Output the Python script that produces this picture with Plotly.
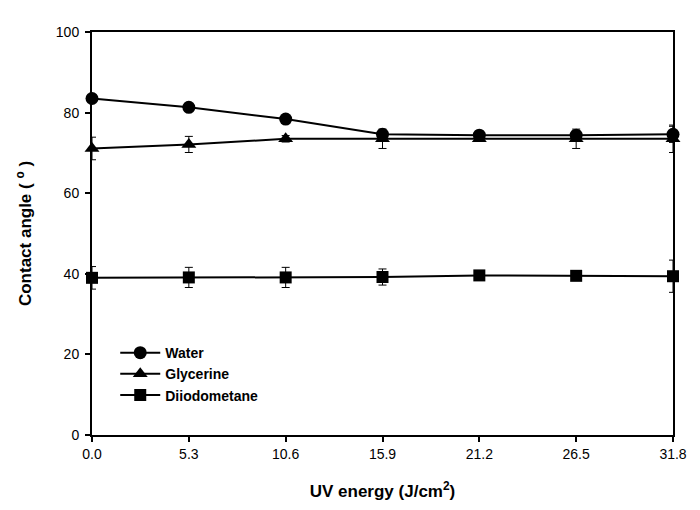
import plotly.graph_objects as go

uv_energy = [0.0, 5.3, 10.6, 15.9, 21.2, 26.5, 31.8]
tick_labels = ["0.0", "5.3", "10.6", "15.9", "21.2", "26.5", "31.8"]

water = [83.5, 81.3, 78.4, 74.6, 74.4, 74.4, 74.6]
water_err = [1.0, 0.8, 0.8, 0.8, 0.6, 0.8, 2.0]

glycerine = [71.1, 72.1, 73.5, 73.5, 73.5, 73.5, 73.5]
glycerine_err = [2.8, 2.0, 0.8, 2.4, 0.6, 2.4, 3.4]

diiodomethane = [39.0, 39.1, 39.1, 39.2, 39.6, 39.5, 39.4]
diiodomethane_err = [2.8, 2.5, 2.5, 2.0, 0.5, 0.5, 4.0]

series = [
    ("Water", water, water_err, "circle", 13),
    ("Glycerine", glycerine, glycerine_err, "triangle-up", 13),
    ("Diiodometane", diiodomethane, diiodomethane_err, "square", 12),
]

fig = go.Figure()
for name, vals, errs, sym, sz in series:
    fig.add_trace(go.Scatter(
        x=uv_energy, y=vals, name=name, mode="lines+markers",
        line=dict(color="black", width=2),
        marker=dict(symbol=sym, size=sz, color="black"),
        error_y=dict(type="data", array=errs, visible=True, color="black", thickness=1, width=4),
        cliponaxis=False,
    ))

font_family = "Arial, Liberation Sans, sans-serif"
fig.update_layout(
    width=700, height=510,
    margin=dict(l=84, r=35, t=24, b=83, autoexpand=False),
    paper_bgcolor="white", plot_bgcolor="white",
    font=dict(family=font_family, size=14, color="black"),
    showlegend=True,
    legend=dict(x=0.04, y=0.243, xanchor="left", yanchor="top",
                bgcolor="rgba(0,0,0,0)", font=dict(size=14, weight="bold"),
                itemwidth=40, tracegroupgap=0),
    xaxis=dict(
        range=[0, 31.8], tickmode="array", tickvals=uv_energy, ticktext=tick_labels,
        showline=True, linecolor="black", linewidth=2, mirror=True,
        ticks="outside", ticklen=5, tickwidth=1.5, tickcolor="black",
        showgrid=False, zeroline=False, automargin=False,
        tickfont=dict(size=14),
        title=dict(text="<b>UV energy (J/cm<sup>2</sup>)</b>", font=dict(size=17), standoff=24),
    ),
    yaxis=dict(
        range=[0, 100], tickmode="array", tickvals=[0, 20, 40, 60, 80, 100],
        showline=True, linecolor="black", linewidth=2, mirror=True,
        ticks="outside", ticklen=5, tickwidth=1.5, tickcolor="black",
        showgrid=False, zeroline=False, automargin=False,
        tickfont=dict(size=14), ticklabelstandoff=3,
        title=dict(text="<b>Contact angle ( <sup>o</sup> )</b>", font=dict(size=17), standoff=20),
    ),
)

fig.write_html("out.html")
